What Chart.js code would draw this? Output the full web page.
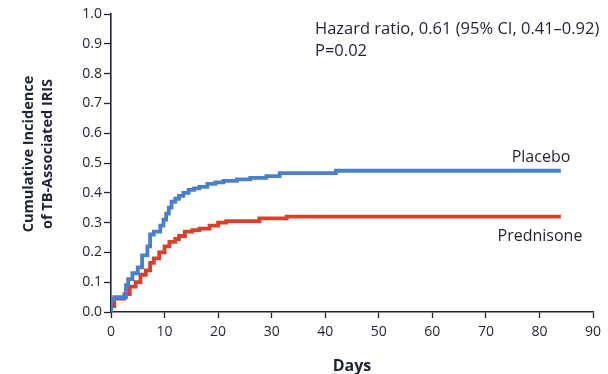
<!DOCTYPE html>
<html><head><meta charset="utf-8">
<script src="https://cdn.jsdelivr.net/npm/chart.js@4/dist/chart.umd.min.js"></script>
<style>html,body{margin:0;padding:0;background:#fff}#w{width:608px;height:374px}</style>
</head><body><div id="w"><canvas id="c"></canvas></div>
<script>
const placeboDays   = [0, 0.6, 2.8, 3.2, 4, 5, 5.8, 6.8, 7.3, 8, 9.2, 9.8, 10.3, 10.8, 11.3, 12, 12.7, 13.5, 14.5, 15.5, 16.5, 18, 19.5, 21, 23.5, 26, 29, 31.5, 42, 51.5, 84];
const placeboValues = [0, 0.04, 0.05, 0.09, 0.11, 0.13, 0.15, 0.19, 0.22, 0.26, 0.27, 0.29, 0.31, 0.33, 0.35, 0.37, 0.38, 0.39, 0.40, 0.41, 0.415, 0.42, 0.43, 0.435, 0.44, 0.445, 0.45, 0.456, 0.466, 0.474, 0.474];
const prednisoneDays   = [0, 0.6, 2.5, 3.5, 4.6, 5.5, 6.5, 7.3, 8, 9, 10, 10.9, 12, 12.7, 13.8, 15.2, 16.5, 18.4, 20, 21.5, 27.7, 32.8, 50.8, 84];
const prednisoneValues = [0, 0.02, 0.045, 0.06, 0.085, 0.10, 0.125, 0.14, 0.165, 0.18, 0.20, 0.22, 0.235, 0.245, 0.255, 0.27, 0.275, 0.28, 0.29, 0.30, 0.305, 0.314, 0.32, 0.32];
const xTicks = [0,10,20,30,40,50,60,70,80,90];
const yTicks = [0,0.1,0.2,0.3,0.4,0.5,0.6,0.7,0.8,0.9,1.0];
const yTitleLines = ['Cumulative Incidence', 'of TB-Associated IRIS'];

const FONT = '"Open Sans"';
const INK = '#1f2230';
const toPts = (xs, ys) => xs.map((x,i)=>({x, y: ys[i]}));

const labelsPlugin = {
  id: 'labels',
  afterDraw(chart) {
    const ctx = chart.ctx;
    ctx.save();
    ctx.fillStyle = INK;
    ctx.font = '16.5px ' + FONT;
    ctx.textBaseline = 'middle';
    ctx.textAlign = 'left';
    ctx.fillText('Hazard ratio, 0.61 (95% CI, 0.41\u20130.92)', 315, 29);
    ctx.fillText('P=0.02', 315, 51);
    ctx.font = '16px ' + FONT;
    ctx.textAlign = 'center';
    ctx.fillText('Placebo', 541, 157);
    ctx.fillText('Prednisone', 540, 236);
    // y-axis title (two lines, rotated)
    ctx.font = 'bold 14.5px ' + FONT;
    ctx.translate(0, 154);
    ctx.rotate(-Math.PI / 2);
    ctx.fillText(yTitleLines[0], 0, 29);
    ctx.fillText(yTitleLines[1], 0, 48);
    ctx.restore();
  }
};

new Chart(document.getElementById('c'), {
  type: 'line',
  data: {
    datasets: [
      { label: 'Placebo', data: toPts(placeboDays, placeboValues), borderColor: '#4a7fca', borderWidth: 3.8, pointRadius: 0, stepped: 'after', fill: false },
      { label: 'Prednisone', data: toPts(prednisoneDays, prednisoneValues), borderColor: '#d8402a', borderWidth: 3.8, pointRadius: 0, stepped: 'after', fill: false }
    ]
  },
  options: {
    responsive: true, maintainAspectRatio: false, animation: false,
    layout: { padding: { left: 0, right: 15, top: 14, bottom: 0 } },
    plugins: { legend: { display: false }, tooltip: { enabled: false } },
    scales: {
      x: {
        type: 'linear', min: 0, max: 90,
        afterBuildTicks: s => { s.ticks = xTicks.map(v => ({value: v})); },
        afterFit: s => { s.height = 62; },
        grid: { drawOnChartArea: false, tickLength: 6, color: INK, tickWidth: 1.3 },
        border: { color: INK, width: 1.6 },
        ticks: { color: INK, font: { family: 'Open Sans', size: 14 }, padding: 6, maxRotation: 0 },
        title: { display: true, text: 'Days', color: INK, font: { family: 'Open Sans', size: 16, weight: 'bold' }, padding: { top: 10, bottom: -2 } }
      },
      y: {
        min: 0, max: 1,
        afterBuildTicks: s => { s.ticks = yTicks.map(v => ({value: v})); },
        afterFit: s => { s.width = 111; },
        grid: { drawOnChartArea: false, tickLength: 7, color: INK, tickWidth: 1.3 },
        border: { color: INK, width: 1.6 },
        ticks: { color: INK, font: { family: 'Open Sans', size: 14 }, padding: 2, callback: v => v.toFixed(1) }
      }
    }
  },
  plugins: [labelsPlugin]
});
</script></body></html>
